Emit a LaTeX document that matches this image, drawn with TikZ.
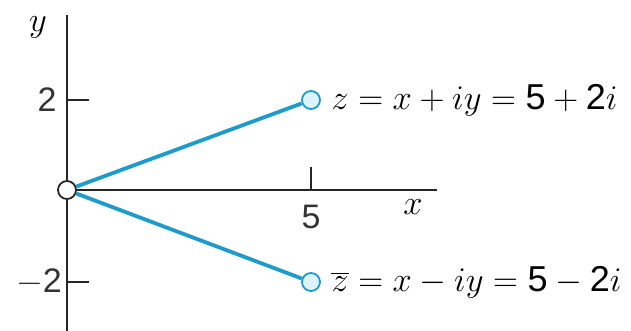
\documentclass[tikz,border=0pt]{standalone}
\usepackage{fontspec}
\setsansfont{Liberation Sans}
\definecolor{lineblue}{RGB}{30,155,205}
\definecolor{dotfill}{RGB}{220,242,252}
\begin{document}
\begin{tikzpicture}[x=0.5pt,y=0.5pt,
  axis/.style={line width=0.8pt,black!85},
  seg/.style={line width=1.9pt,lineblue},
  pt/.style={circle,draw=lineblue,fill=dotfill,line width=0.9pt,minimum size=9pt,inner sep=0pt},
  opt/.style={circle,draw=black!85,fill=white,line width=0.9pt,minimum size=9pt,inner sep=0pt},
  lab/.style={font=\fontsize{18}{20}\selectfont,inner sep=0pt},
  num/.style={font=\fontsize{17}{19}\selectfont\sffamily,text=black!80,inner sep=0pt}]
\useasboundingbox (0,0) rectangle (631,331);
\coordinate (ytop) at (67,316);
\coordinate (ybot) at (67,0);
\coordinate (xend) at (437,141);
\coordinate (t2a) at (67,231); \coordinate (t2b) at (89,231);
\coordinate (tm2a) at (67,49); \coordinate (tm2b) at (89,49);
\coordinate (t5a) at (311,141); \coordinate (t5b) at (311,164);
\draw[axis] (ybot) -- (ytop);
\draw[axis] (67,141) -- (xend);
\draw[axis] (t2a) -- (t2b);
\draw[axis] (tm2a) -- (tm2b);
\draw[axis] (t5a) -- (t5b);
\node[opt] (O) at (67,141) {};
\node[pt] (P) at (311,231) {};
\node[pt] (Q) at (311,49) {};
\draw[seg] (O) -- (P);
\draw[seg] (O) -- (Q);
\node[lab] (ylab) at (38,304) {$y$};
\node[lab] (xlab) at (413,124) {$x$};
\node[num] (n2) at (47,231) {2};
\node[num] (nm2) at (39,49) {$-$2};
\node[num] (n5) at (311,114) {5};
\node[lab,anchor=west] (eq1) at (331,231) {$z = x + iy = \textsf{5} + \textsf{2}i$};
\node[lab,anchor=west] (eq2) at (331,49) {$\overline{z} = x - iy = \textsf{5} - \textsf{2}i$};
\end{tikzpicture}
\end{document}
